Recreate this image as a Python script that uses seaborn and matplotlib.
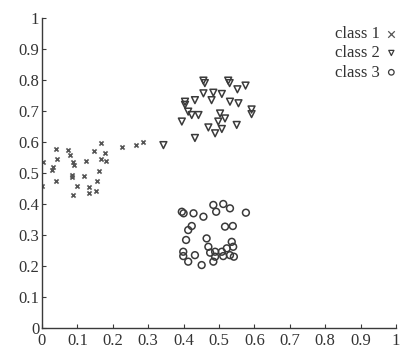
import seaborn as sns
import matplotlib.pyplot as plt

# class 1: small crosses on the left
c1_x = [0.004, 0.0, 0.027, 0.032, 0.04, 0.041, 0.039, 0.073, 0.079, 0.087,
        0.09, 0.084, 0.086, 0.098, 0.087, 0.124, 0.12, 0.134, 0.134, 0.152,
        0.154, 0.147, 0.162, 0.166, 0.168, 0.178, 0.181, 0.225, 0.265, 0.284]
c1_y = [0.536, 0.458, 0.51, 0.52, 0.577, 0.544, 0.475, 0.574, 0.558, 0.537,
        0.526, 0.494, 0.488, 0.458, 0.429, 0.539, 0.49, 0.454, 0.437, 0.443,
        0.474, 0.572, 0.508, 0.544, 0.596, 0.566, 0.54, 0.585, 0.59, 0.599]

# class 2: triangles
c2_x = [0.456, 0.46, 0.526, 0.53, 0.552, 0.575, 0.456, 0.432, 0.484, 0.508,
        0.479, 0.404, 0.404, 0.531, 0.555, 0.592, 0.413, 0.423, 0.442, 0.395,
        0.503, 0.517, 0.498, 0.55, 0.47, 0.489, 0.508, 0.432, 0.343, 0.592]
c2_y = [0.798, 0.79, 0.798, 0.79, 0.77, 0.782, 0.757, 0.735, 0.759, 0.755,
        0.735, 0.73, 0.72, 0.73, 0.725, 0.705, 0.698, 0.687, 0.687, 0.666,
        0.692, 0.676, 0.666, 0.655, 0.647, 0.628, 0.642, 0.613, 0.59, 0.69]

# class 3: circles
c3_x = [0.395, 0.4, 0.428, 0.456, 0.484, 0.492, 0.512, 0.531, 0.576, 0.517,
        0.539, 0.423, 0.413, 0.407, 0.465, 0.47, 0.475, 0.489, 0.508, 0.522,
        0.536, 0.54, 0.531, 0.542, 0.512, 0.484, 0.451, 0.432, 0.399, 0.399,
        0.413, 0.489]
c3_y = [0.375, 0.37, 0.37, 0.359, 0.397, 0.375, 0.4, 0.386, 0.372, 0.327,
        0.329, 0.329, 0.316, 0.284, 0.289, 0.262, 0.243, 0.246, 0.246, 0.257,
        0.278, 0.262, 0.235, 0.23, 0.232, 0.214, 0.203, 0.235, 0.246, 0.232,
        0.214, 0.23]

ticks = [0, 0.1, 0.2, 0.3, 0.4, 0.5, 0.6, 0.7, 0.8, 0.9, 1]
tick_labels = ['0', '0.1', '0.2', '0.3', '0.4', '0.5', '0.6', '0.7', '0.8', '0.9', '1']

sns.set_style('ticks')
plt.rcParams['font.family'] = ['Liberation Serif', 'DejaVu Serif']
plt.rcParams['xtick.direction'] = 'in'
plt.rcParams['ytick.direction'] = 'in'

ink = '#3a3a3a'

fig = plt.figure(figsize=(4.02, 3.52), dpi=100)
ax = fig.add_axes([42 / 402, 24 / 352, 354 / 402, 310 / 352])

sns.scatterplot(x=c1_x, y=c1_y, ax=ax, marker='x', s=9, color='#555555',
                linewidth=1.2, label='class 1')
sns.scatterplot(x=c2_x, y=c2_y, ax=ax, marker='v', s=24, color=ink,
                facecolor='none', edgecolor=ink, linewidth=1.1, label='class 2')
sns.scatterplot(x=c3_x, y=c3_y, ax=ax, marker='o', s=24, color=ink,
                facecolor='none', edgecolor=ink, linewidth=1.1, label='class 3')

ax.set_xlim(0, 1)
ax.set_ylim(0, 1)
ax.set_xticks(ticks)
ax.set_xticklabels(tick_labels)
ax.set_yticks(ticks)
ax.set_yticklabels(tick_labels)
ax.tick_params(length=3, width=0.8, color=ink, labelsize=12,
               labelcolor='#333333')
ax.tick_params(axis='x', pad=3.5)
ax.tick_params(axis='y', pad=2)
sns.despine(ax=ax)
for sp in ['left', 'bottom']:
    ax.spines[sp].set_color(ink)
    ax.spines[sp].set_linewidth(1.0)

leg = ax.legend(loc='upper right', bbox_to_anchor=(398 / 402, 326 / 352),
                bbox_transform=fig.transFigure, frameon=False, markerfirst=False,
                fontsize=12, handletextpad=0.3, handlelength=0.8,
                labelspacing=0.2, borderpad=0, borderaxespad=0)
# smaller legend glyphs, like the reference
for h, sz, lw in zip(leg.legend_handles, [22, 14, 16], [0.9, 0.9, 0.9]):
    h.set_sizes([sz])
    h.set_linewidth(lw)
for t in leg.get_texts():
    t.set_color('#333333')

fig.savefig('out.png', dpi=100, facecolor='white')
